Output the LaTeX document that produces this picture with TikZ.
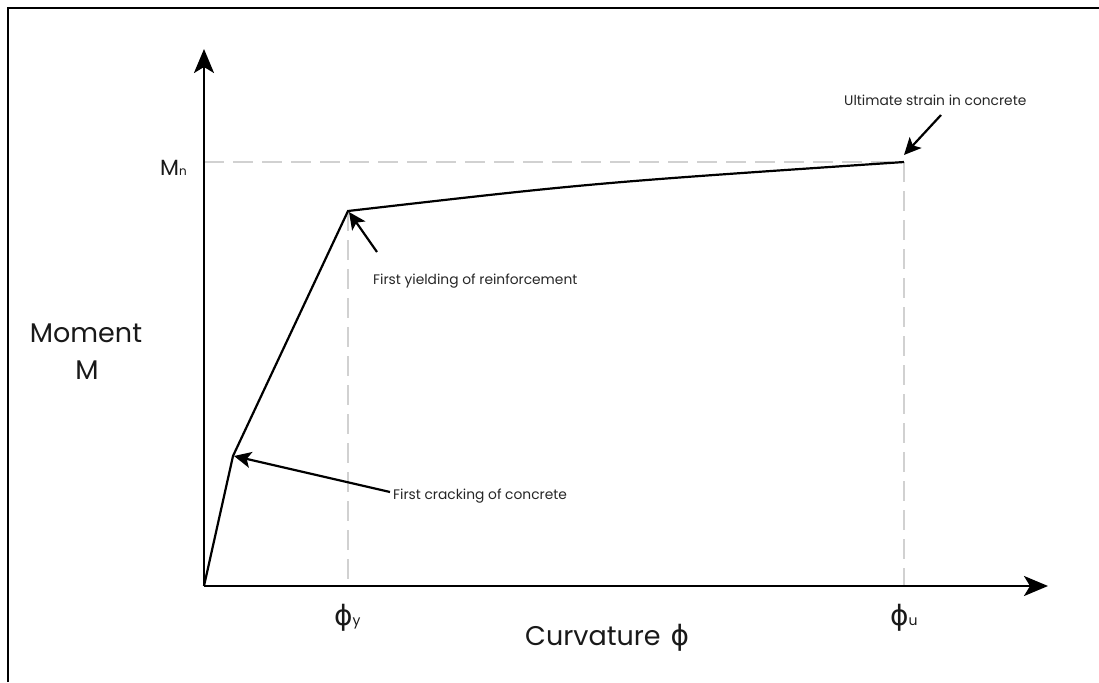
\documentclass[tikz,border=0pt]{standalone}
\usepackage{fontspec}
\setmainfont{Poppins}
\newfontfamily\gk{DejaVu Sans}
\usetikzlibrary{arrows.meta}
\begin{document}
\begin{tikzpicture}[x=1pt,y=-1pt,
  frame/.style={line width=2.6pt},
  axis/.style={line width=2.6pt,-{Stealth[length=24pt,width=20pt,inset=6pt]}},
  curve/.style={line width=2.2pt,line join=miter},
  guide/.style={draw=black!18,line width=1.2pt,dash pattern=on 20pt off 9pt},
  note/.style={font=\fontsize{13.8}{16}\selectfont,inner sep=0pt,text=black!85},
  pointer/.style={line width=2.2pt,-{Stealth[length=17pt,width=16pt,inset=4pt]}},
  big/.style={font=\fontsize{27}{32}\selectfont,inner sep=0pt,text=black!90},
  phi/.style={inner sep=0pt,text=black!90}]
\useasboundingbox (0,0) rectangle (1099,682);
\draw[frame] (8,682) -- (8,8) -- (1099,8);

% key points
\coordinate (O) at (204,586);
\coordinate (ytip) at (204,49);
\coordinate (xtip) at (1048,586);
\coordinate (crack) at (233,456);
\coordinate (yield) at (348,211);
\coordinate (ult) at (904,162);
\coordinate (mnax) at (204,162);
\coordinate (phiyax) at (348,586);
\coordinate (phiuax) at (904,586);

% guides
\draw[guide] (mnax) -- (ult);
\draw[guide] (yield) -- (phiyax);
\draw[guide] (ult) -- (phiuax);

% axes
\draw[axis] (O) -- (ytip);
\draw[axis] (O) -- (xtip);

% curve
\draw[curve] (O) -- (crack) -- (yield) .. controls (592,183) .. (ult);

% axis labels
\node[big,anchor=base] (mom) at (86,342) {Moment};
\node[big,anchor=base] (momM) at (87,379) {M};
\node[phi,anchor=base east] (mn) at (187,175) {\fontsize{22}{26}\selectfont M\fontsize{12}{14}\selectfont n};
\node[phi,anchor=base west] (phiy) at (334,625) {{\gk\fontsize{28}{32}\selectfont ϕ}\fontsize{14}{16}\selectfont y};
\node[phi,anchor=base west] (phiu) at (890,625) {{\gk\fontsize{28}{32}\selectfont ϕ}\fontsize{14}{16}\selectfont u};
\node[big,anchor=base west] (curv) at (525,645) {Curvature\hspace{10pt}{\gk\fontsize{28}{32}\selectfont ϕ}};

% annotations
\node[note,anchor=base west] (ultT) at (844,106) {Ultimate strain in concrete};
\node[note,anchor=base west] (yieldT) at (373,284) {First yielding of reinforcement};
\node[note,anchor=base west] (crackT) at (393,499) {First cracking of concrete};
\coordinate (ultS) at (941,115);
\coordinate (ultE) at (904,155);
\coordinate (yieldS) at (377,252);
\coordinate (yieldE) at (349,212);
\coordinate (crackS) at (390,492);
\coordinate (crackE) at (234,456);
\draw[pointer] (ultS) -- (ultE);
\draw[pointer] (yieldS) -- (yieldE);
\draw[pointer] (crackS) -- (crackE);
\end{tikzpicture}
\end{document}
